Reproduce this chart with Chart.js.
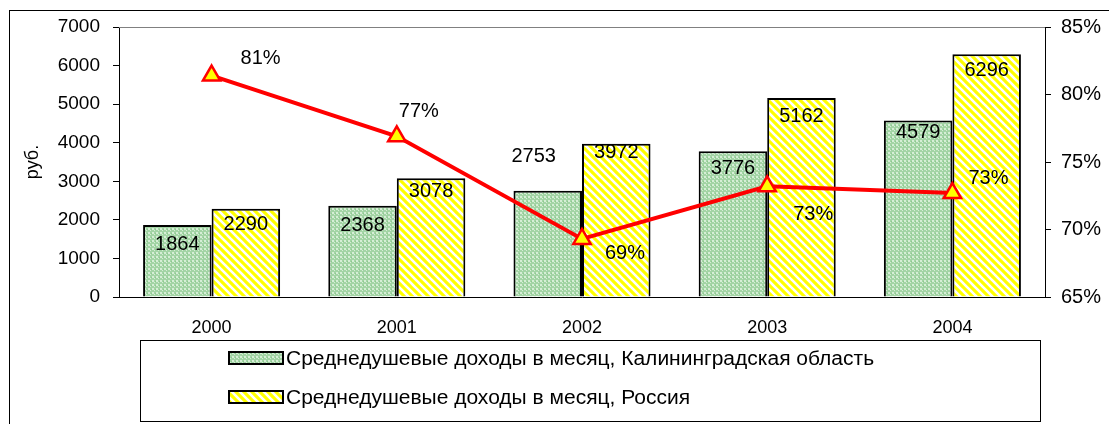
<!DOCTYPE html>
<html>
<head>
<meta charset="utf-8">
<script src="https://cdn.jsdelivr.net/npm/chart.js@4/dist/chart.umd.min.js"></script>
<style>
  html, body { margin: 0; padding: 0; background: #fff; }
  #wrap { width: 1109px; height: 424px; position: relative; }
</style>
</head>
<body>
<div id="wrap"><canvas id="chart"></canvas></div>
<script>
// --- Data ---
const years = ['2000', '2001', '2002', '2003', '2004'];
const incomeKaliningrad = [1864, 2368, 2753, 3776, 4579];
const incomeRussia = [2290, 3078, 3972, 5162, 6296];
const ratioPercent = [81.4, 76.9, 69.3, 73.2, 72.7];
const leftTicks = [0, 1000, 2000, 3000, 4000, 5000, 6000, 7000];
const rightTicks = [65, 70, 75, 80, 85];
const legendLabels = [
    'Среднедушевые доходы в месяц, Калининградская область',
    'Среднедушевые доходы в месяц, Россия'
];

// label nudges (pixels) for the value labels
const greenLabelDx = [0, 0, -14, 0, 0];
const greenLabelDy = [19, 20, -34, 17, 12];
const yellowLabelDy = [16, 13, 9, 19, 16];
const lineLabelOffsets = [[49, -17], [22, -25], [43, 15], [46, 28], [36, -15]];

const FONT = '"Liberation Sans", Arial, sans-serif';

// --- Patterns ---
function makeGreenPattern() {
    const c = document.createElement('canvas');
    c.width = 4; c.height = 4;
    const g = c.getContext('2d');
    g.fillStyle = '#a3d4a5';
    g.fillRect(0, 0, 4, 4);
    g.fillStyle = '#d6eed6';
    g.fillRect(0, 0, 2, 2);
    g.fillRect(2, 2, 1, 1);
    g.fillStyle = '#8cc98f';
    g.fillRect(3, 1, 1, 1);
    return g.createPattern(c, 'repeat');
}

function makeYellowPattern() {
    const s = 8;
    const c = document.createElement('canvas');
    c.width = s; c.height = s;
    const g = c.getContext('2d');
    g.fillStyle = '#ffff00';
    g.fillRect(0, 0, s, s);
    g.strokeStyle = '#ffffff';
    g.lineWidth = 2.6;
    g.beginPath();
    g.moveTo(-2, -2); g.lineTo(s + 2, s + 2);
    g.moveTo(-2, s - 2); g.lineTo(2, s + 2);
    g.moveTo(s - 2, -2); g.lineTo(s + 2, 2);
    g.stroke();
    return g.createPattern(c, 'repeat');
}

const greenFill = makeGreenPattern();
const yellowFill = makeYellowPattern();

// --- Plugins ---
const framePlugin = {
    id: 'frame',
    beforeDraw(chart) {
        const ctx = chart.ctx;
        ctx.save();
        ctx.strokeStyle = '#000';
        ctx.lineWidth = 1;
        ctx.strokeRect(9.5, 10.5, 1200, 500);
        ctx.restore();
    },
    afterDraw(chart) {
        const ctx = chart.ctx;
        const a = chart.chartArea;
        ctx.save();
        // top border of plot area
        ctx.strokeStyle = '#808080';
        ctx.lineWidth = 1;
        ctx.beginPath();
        ctx.moveTo(a.left, a.top + 0.5);
        ctx.lineTo(a.right, a.top + 0.5);
        ctx.stroke();

        // y axis title
        ctx.fillStyle = '#000';
        ctx.font = '18px ' + FONT;
        ctx.translate(33, 162);
        ctx.rotate(-Math.PI / 2);
        ctx.textAlign = 'center';
        ctx.textBaseline = 'middle';
        ctx.fillText('руб.', 0, 0);
        ctx.restore();

        // legend box
        ctx.save();
        ctx.strokeStyle = '#000';
        ctx.lineWidth = 1;
        ctx.strokeRect(140.5, 340.5, 900, 81);
        const fills = [greenFill, yellowFill];
        const rowsY = [358, 397];
        ctx.font = '20px ' + FONT;
        ctx.textBaseline = 'middle';
        ctx.textAlign = 'left';
        legendLabels.forEach((txt, i) => {
            ctx.fillStyle = fills[i];
            ctx.fillRect(229, rowsY[i] - 6, 54, 12);
            ctx.strokeStyle = '#000';
            ctx.lineWidth = 2;
            ctx.strokeRect(229, rowsY[i] - 6, 54, 12);
            ctx.fillStyle = '#000';
            ctx.save();
            ctx.translate(286, rowsY[i] + 1);
            ctx.scale(1.05, 1);
            ctx.fillText(txt, 0, 0);
            ctx.restore();
        });
        ctx.restore();

        // value labels
        ctx.save();
        ctx.font = '20px ' + FONT;
        ctx.fillStyle = '#000';
        ctx.textAlign = 'center';
        ctx.textBaseline = 'middle';
        const m0 = chart.getDatasetMeta(0);
        const m1 = chart.getDatasetMeta(1);
        const m2 = chart.getDatasetMeta(2);
        m0.data.forEach((bar, i) => {
            ctx.fillText(String(incomeKaliningrad[i]), bar.x + greenLabelDx[i], bar.y + greenLabelDy[i]);
        });
        m1.data.forEach((bar, i) => {
            ctx.fillText(String(incomeRussia[i]), bar.x, bar.y + yellowLabelDy[i]);
        });
        m2.data.forEach((pt, i) => {
            const o = lineLabelOffsets[i];
            ctx.fillText(Math.round(ratioPercent[i]) + '%', pt.x + o[0], pt.y + o[1]);
        });
        ctx.restore();
    }
};

// --- Chart ---
const ctx = document.getElementById('chart').getContext('2d');
new Chart(ctx, {
    type: 'bar',
    data: {
        labels: years,
        datasets: [
            {
                label: legendLabels[0],
                data: incomeKaliningrad,
                backgroundColor: greenFill,
                borderColor: '#000',
                borderWidth: 2,
                borderSkipped: 'bottom',
                categoryPercentage: 0.74,
                barPercentage: 1.0,
                yAxisID: 'y',
                order: 2
            },
            {
                label: legendLabels[1],
                data: incomeRussia,
                backgroundColor: yellowFill,
                borderColor: '#000',
                borderWidth: 2,
                borderSkipped: 'bottom',
                categoryPercentage: 0.74,
                barPercentage: 1.0,
                yAxisID: 'y',
                order: 2
            },
            {
                type: 'line',
                label: 'ratio',
                data: ratioPercent,
                borderColor: '#ff0000',
                borderWidth: 4,
                pointStyle: 'triangle',
                pointRadius: 10,
                pointBackgroundColor: '#ffff00',
                pointBorderColor: '#ff0000',
                pointBorderWidth: 2.5,
                tension: 0,
                yAxisID: 'y1',
                order: 0
            }
        ]
    },
    options: {
        responsive: true,
        maintainAspectRatio: false,
        animation: false,
        layout: { padding: { top: 27, left: 0, right: 0, bottom: 0 } },
        plugins: {
            legend: { display: false },
            tooltip: { enabled: false }
        },
        scales: {
            x: {
                grid: { display: false },
                border: { color: '#000', width: 1 },
                ticks: { color: '#000', font: { family: FONT, size: 18 }, padding: 12 },
                afterFit(scale) { scale.height = 127; }
            },
            y: {
                position: 'left',
                min: 0,
                max: 7000,
                afterBuildTicks(scale) { scale.ticks = leftTicks.map(v => ({ value: v })); },
                grid: { drawOnChartArea: false, drawTicks: true, tickLength: 6, color: '#000' },
                border: { color: '#000', width: 1 },
                ticks: {
                    color: '#000',
                    font: { family: FONT, size: 19 },
                    padding: 13,
                    callback: v => String(v)
                },
                afterFit(scale) { scale.width = 119; }
            },
            y1: {
                position: 'right',
                min: 65,
                max: 85,
                afterBuildTicks(scale) { scale.ticks = rightTicks.map(v => ({ value: v })); },
                grid: { drawOnChartArea: false, drawTicks: true, tickLength: 6, color: '#000' },
                border: { color: '#000', width: 1 },
                ticks: {
                    color: '#000',
                    font: { family: FONT, size: 20 },
                    padding: 10,
                    callback: v => v + '%'
                },
                afterFit(scale) { scale.width = 64; }
            }
        }
    },
    plugins: [framePlugin]
});
</script>
</body>
</html>
